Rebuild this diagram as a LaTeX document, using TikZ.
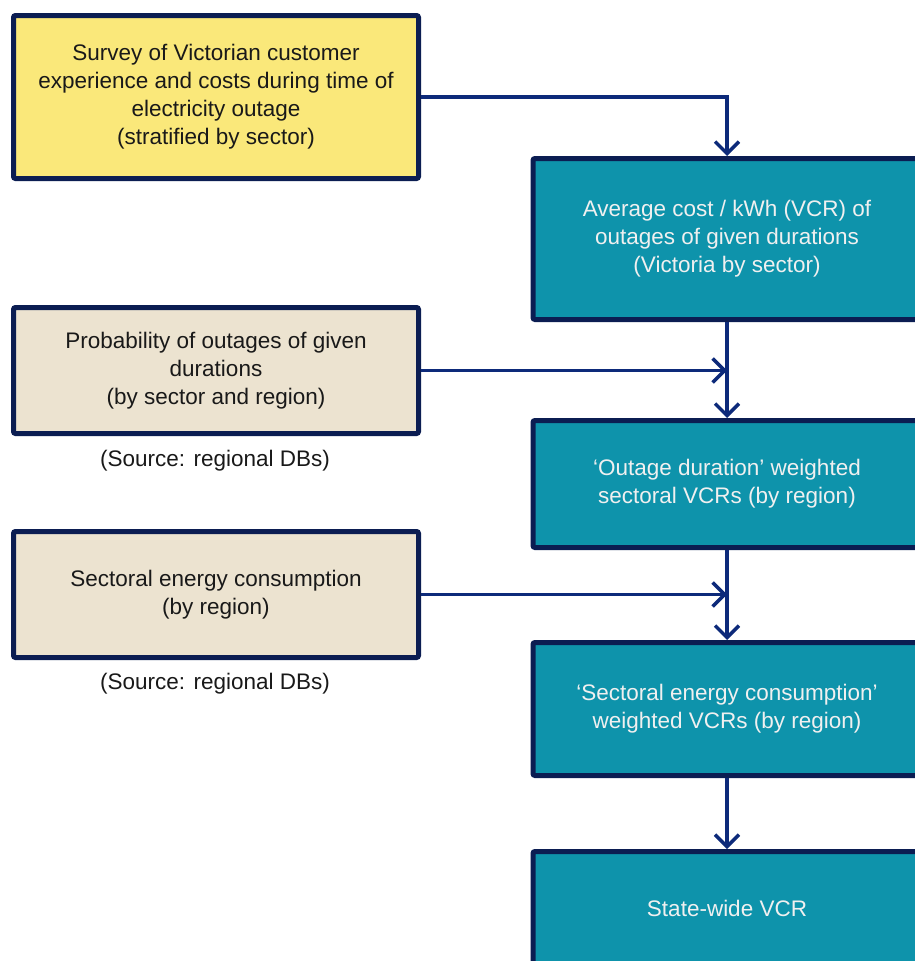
\documentclass[tikz,border=0pt]{standalone}
\usepackage{fontspec}
\setmainfont{Liberation Sans}
\usetikzlibrary{arrows.meta}
\definecolor{navy}{HTML}{0B1D52}
\definecolor{arrowc}{HTML}{0D2A7A}
\definecolor{yel}{HTML}{FAE87A}
\definecolor{beige}{HTML}{ECE3D0}
\definecolor{teal}{HTML}{0E93AB}
\tikzset{
  box/.style={draw=navy, line width=5pt, rounded corners=2pt, inner sep=0pt, align=center,
    font=\fontsize{22.5}{28}\selectfont},
  inbox/.style={box, fill=yel, text=black!90},
  srcbox/.style={box, fill=beige, text=black!90},
  outbox/.style={box, fill=teal, text=white!94!black},
  conn/.style={draw=arrowc, line width=3.5pt, -{Straight Barb[length=12pt,width=24pt,line width=3.5pt]}},
  note/.style={font=\fontsize{22.5}{28}\selectfont, text=black!90}
}
\begin{document}
\begin{tikzpicture}[x=1pt,y=-1pt]
\useasboundingbox (0,0) rectangle (915,961);
\clip (0,0) rectangle (915,961);
\node[inbox, minimum width=405pt, minimum height=163pt] (survey) at (216,97)
  {Survey of Victorian customer\\experience and costs during time of\\electricity outage\\(stratified by sector)};
\node[srcbox, minimum width=405pt, minimum height=126pt] (prob) at (216,370.5)
  {Probability of outages of given\\durations\\(by sector and region)};
\node[note] (src1) at (215,461) {(Source: regional DBs)};
\node[srcbox, minimum width=405pt, minimum height=126pt] (energy) at (216,594.5)
  {Sectoral energy consumption\\(by region)};
\node[note] (src2) at (215,684) {(Source: regional DBs)};
\node[outbox, minimum width=388pt, minimum height=161pt] (avg) at (727,239)
  {Average cost / kWh (VCR) of\\outages of given durations\\(Victoria by sector)};
\node[outbox, minimum width=388pt, minimum height=127pt] (outage) at (727,484)
  {‘Outage duration’ weighted\\sectoral VCRs (by region)};
\node[outbox, minimum width=388pt, minimum height=133pt] (weighted) at (727,709)
  {‘Sectoral energy consumption’\\weighted  VCRs (by region)};
\node[outbox, minimum width=388pt, minimum height=113pt] (state) at (727,908)
  {State-wide VCR};
\draw[conn] (survey.east) -| (avg.north);
\draw[conn] (prob.east) -- (prob.east -| avg.south);
\draw[conn] (avg.south) -- (outage.north);
\draw[conn] (energy.east) -- (energy.east -| outage.south);
\draw[conn] (outage.south) -- (weighted.north);
\draw[conn] (weighted.south) -- (state.north);
\end{tikzpicture}
\end{document}
